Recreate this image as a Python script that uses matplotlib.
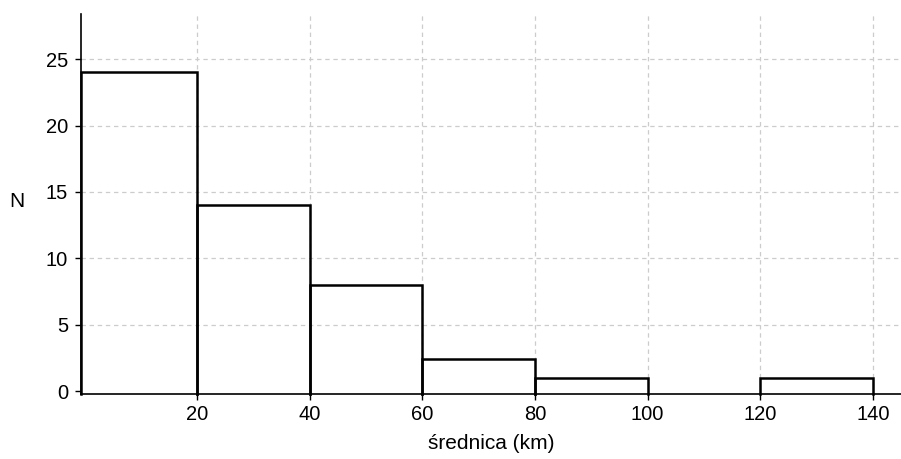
import numpy as np
import matplotlib
matplotlib.use('Agg')
import matplotlib.pyplot as plt

plt.rcParams['font.family'] = ['Liberation Sans', 'DejaVu Sans']

bin_edges = [0, 20, 40, 60, 80, 100, 120, 140]
counts = [24, 14, 8, 2.4, 1, 0, 1]
x_ticks = [20, 40, 60, 80, 100, 120, 140]
y_ticks = [0, 5, 10, 15, 20, 25]

fig = plt.figure(figsize=(9.01, 4.59), dpi=100)
ax = fig.add_axes([80.5 / 901, (459 - 393.7) / 459, (901 - 80.5) / 901, (393.7 - 14) / 459])

ax.set_xlim(-0.7, 145)
ax.set_ylim(-0.2, 28.4)
x0, _ = ax.get_xlim()
y0, _ = ax.get_ylim()

# outline of each bar (open at the bottom, like the original)
for i, c in enumerate(counts):
    if c == 0:
        continue
    l, r = bin_edges[i], bin_edges[i + 1]
    if i == 0:
        l = x0
    ax.plot([l, l, r, r], [y0, c, c, y0], color='black', lw=1.8,
            solid_joinstyle='miter', zorder=3, clip_on=False)

ax.set_xticks(x_ticks)
ax.set_yticks(y_ticks)
ax.tick_params(labelsize=14.5, length=4, width=1, colors='black')
ax.tick_params(axis='y', pad=5)
ax.tick_params(axis='x', pad=4)

ax.grid(True, color='#cccccc', linestyle=(0, (3.5, 3)), linewidth=0.9, zorder=0)
ax.get_ygridlines()[0].set_visible(False)
for s in ['top', 'right']:
    ax.spines[s].set_visible(False)
ax.spines['left'].set_linewidth(1.2)
ax.spines['bottom'].set_linewidth(1.2)

ax.set_xlabel('średnica (km)', fontsize=15, labelpad=7)
ax.set_ylabel('N', fontsize=15, rotation=0, ha='center', va='center')
ax.yaxis.set_label_coords(-0.078, 0.505)

fig.savefig('out.png', dpi=100)
